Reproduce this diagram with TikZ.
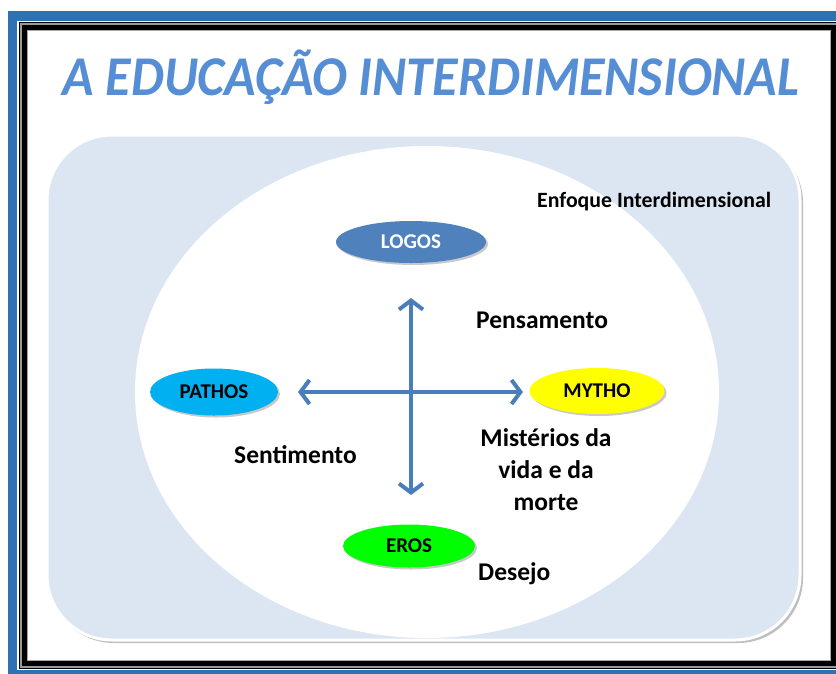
\documentclass[tikz,border=0pt]{standalone}
\usepackage{fontspec}
\setmainfont{Carlito}
\usetikzlibrary{shapes.geometric,arrows.meta,shadows}
\definecolor{bandblue}{RGB}{46,114,180}
\definecolor{panelblue}{RGB}{220,230,242}
\definecolor{titleblue}{RGB}{85,142,213}
\definecolor{arrowblue}{RGB}{74,126,187}
\definecolor{logosblue}{RGB}{79,129,189}
\definecolor{pathoscyan}{RGB}{0,176,240}
\definecolor{mythoyellow}{RGB}{255,255,0}
\definecolor{erosgreen}{RGB}{0,255,0}
\tikzset{
  dimnode/.style={ellipse, inner sep=0pt, font=\fontsize{21}{25}\selectfont\bfseries,
    drop shadow={shadow xshift=2pt, shadow yshift=-2pt, opacity=0.35, fill=black!60}},
  lbl/.style={font=\fontsize{25.5}{32}\selectfont\bfseries, inner sep=0pt, align=center},
  axisarrow/.style={draw=arrowblue, line width=4pt,
    {Straight Barb[length=9pt,width=24pt,line width=4pt]}-{Straight Barb[length=9pt,width=24pt,line width=4pt]}}
}
\begin{document}
\begin{tikzpicture}[x=1pt,y=-1pt]
\useasboundingbox (0,0) rectangle (836,673);
\fill[white] (0,0) rectangle (836,673);
% outer blue band and black double frame
\fill[bandblue] (8,11) rectangle (840,680);
\fill[white] (17,21) rectangle (840,670);
\fill[black] (19,22) rectangle (840,669);
\fill[black!40] (20,23) rectangle (840,668);
\fill[black] (22,25) rectangle (837,666);
\fill[black!35] (27,30) rectangle (831,661);
\fill[white] (28,31) rectangle (830,660);
% title
\node[font=\fontsize{52}{60}\selectfont\bfseries\itshape, text=titleblue, anchor=base, inner sep=0pt, yscale=1.08, transform shape] (title) at (431,95) {A EDUCAÇÃO INTERDIMENSIONAL};
% panel
\fill[black!25, rounded corners=65pt] (49,138) rectangle (803,643);
\filldraw[fill=panelblue, draw=white, line width=3pt, rounded corners=65pt] (47,135) rectangle (800,640);
\begin{scope}
  \clip[rounded corners=65pt] (48.5,136.5) rectangle (798.5,638.5);
  \fill[white] (427,392) ellipse [x radius=292pt, y radius=246pt];
\end{scope}
\node[font=\fontsize{21.8}{26}\selectfont\bfseries, anchor=base west, inner sep=0pt] (enf) at (537,207) {Enfoque Interdimensional};
% dimension nodes
\node[dimnode, fill=logosblue, text=white, minimum width=150pt, minimum height=42pt] (logos) at (411,242) {LOGOS};
\node[dimnode, fill=pathoscyan, minimum width=128pt, minimum height=47pt] (pathos) at (214,392) {PATHOS};
\node[dimnode, fill=mythoyellow, minimum width=135pt, minimum height=46pt] (mytho) at (597,391) {MYTHO};
\node[dimnode, fill=erosgreen, minimum width=132pt, minimum height=43pt] (eros) at (409,546) {EROS};
% axes
\coordinate (vtop) at (411,298);
\coordinate (vbot) at (411,495);
\coordinate (hleft) at (298,392);
\coordinate (hright) at (523,392);
\draw[axisarrow] (vtop) -- (vbot);
\draw[axisarrow] (hleft) -- (hright);
% labels
\node[lbl, anchor=base west] (pens) at (476,328) {Pensamento};
\node[lbl, anchor=base west] (sent) at (234,463) {Sentimento};
\node[lbl, anchor=north] (myst) at (546,428) {Mistérios da\\vida e da\\morte};
\node[lbl, anchor=base west] (desejo) at (478,580) {Desejo};
\end{tikzpicture}
\end{document}
